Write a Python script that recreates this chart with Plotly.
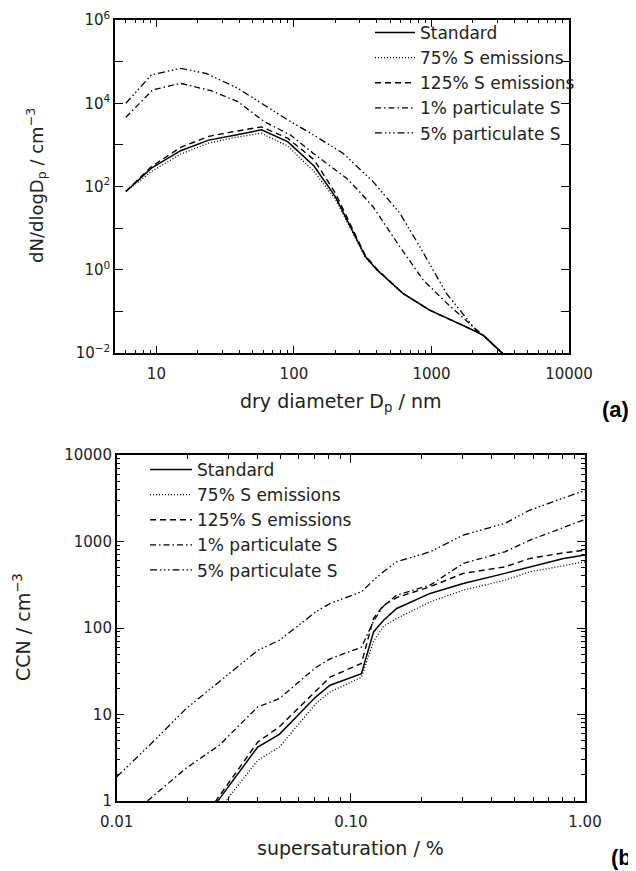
import plotly.graph_objects as go

W, H = 636, 871
OFF = 8  # page body margin of the browser

# ---------------- Panel (a): size distributions ----------------
names = ["Standard", "75% S emissions", "125% S emissions", "1% particulate S", "5% particulate S"]

d_std = [6, 9.2, 15, 24, 37, 58, 90, 140, 200, 270, 330, 400, 470, 620, 970, 1500, 2100, 2400, 3500]
n_std = [76, 275, 725, 1300, 1700, 2300, 1200, 310, 57, 7.6, 2.1, 1.0, 0.63, 0.27, 0.107, 0.056, 0.033, 0.026, 0.008]
n_75 = [76, 229, 600, 1100, 1500, 1900, 940, 229, 50, 7.2, 2.0, 1.0, 0.63, 0.27, 0.107, 0.056, 0.033, 0.026, 0.008]
n_125 = [76, 300, 870, 1600, 2100, 2700, 1450, 440, 70, 8.5, 2.2, 1.05, 0.65, 0.27, 0.107, 0.056, 0.033, 0.026, 0.008]

d_1 = [6, 9.4, 15, 25, 39, 61, 95, 138, 241, 300, 376, 588, 870, 1285, 2000, 2400, 3500]
n_1 = [4600, 21000, 30000, 20000, 11000, 3600, 1700, 631, 158, 75, 32.7, 3.6, 0.57, 0.16, 0.043, 0.026, 0.008]

d_5 = [6, 9.2, 15, 23, 39, 61, 90, 140, 227, 376, 588, 822, 1285, 2100, 2400, 3500]
n_5 = [10000, 48000, 69000, 52000, 23000, 9100, 4000, 1700, 630, 131, 23, 3.6, 0.27, 0.036, 0.026, 0.008]

xa_ticks = [10, 100, 1000, 10000]
xa_labels = ["10", "100", "1000", "10000"]
ya_ticks = [1e-2, 1e-1, 1e0, 1e1, 1e2, 1e3, 1e4, 1e5, 1e6]
ya_labels = ["10<sup>\u22122</sup>", "", "10<sup>0</sup>", "", "10<sup>2</sup>", "", "10<sup>4</sup>", "", "10<sup>6</sup>"]

# ---------------- Panel (b): CCN spectra ----------------
s_b = [0.01, 0.0138, 0.0198, 0.0274, 0.04, 0.0495, 0.0709, 0.0815, 0.111, 0.125, 0.138, 0.157, 0.218, 0.302, 0.455, 0.582, 0.81, 1.0]
c_std = [None, None, 0.34, 1.05, 4.2, 5.9, 16, 21.8, 29.7, 90, 123, 168, 251, 327, 428, 509, 637, 696]
c_75 = [None, None, 0.26, 0.8, 2.95, 4.2, 13.4, 18.2, 27, 70, 105, 129, 200, 274, 357, 446, 530, 582]
c_125 = [None, None, 0.33, 1.13, 4.8, 7.2, 19, 27, 39, 129, 184, 225, 300, 428, 509, 637, 740, 795]
c_1 = [0.5, 1.05, 2.4, 4.4, 12.2, 15.3, 35, 44, 60, 120, 180, 240, 313, 558, 760, 1037, 1450, 1800]
c_5 = [1.9, 4.4, 11.7, 24, 55, 72, 154, 192, 262, 357, 450, 582, 760, 1185, 1620, 2310, 3200, 3900]

xb_ticks = [0.01, 0.1, 1.0]
xb_labels = ["0.01", "0.10", "1.00"]
yb_ticks = [1, 10, 100, 1000, 10000]
yb_labels = ["1", "10", "100", "1000", "10000"]

dashes = ["solid", "1px,2px", "6px,4px", "6px,3px,1.5px,3px",
          "7px,3px,1.5px,2.5px,1.5px,2.5px,1.5px,3px"]
widths = [1.5, 1.3, 1.4, 1.3, 1.3]

FONT = "DejaVu Sans"
fig = go.Figure()

a_x = [d_std, d_std, d_std, d_1, d_5]
a_y = [n_std, n_75, n_125, n_1, n_5]
for i in range(5):
    fig.add_trace(go.Scatter(x=a_x[i], y=a_y[i], mode="lines", name=names[i],
                             line=dict(color="black", width=widths[i], dash=dashes[i]),
                             xaxis="x", yaxis="y", legend="legend"))

b_y = [c_std, c_75, c_125, c_1, c_5]
for i in range(5):
    fig.add_trace(go.Scatter(x=s_b, y=b_y[i], mode="lines", name=names[i],
                             line=dict(color="black", width=widths[i], dash=dashes[i]),
                             xaxis="x2", yaxis="y2", legend="legend2"))


def px_x(p):
    return (p - OFF) / W


def px_y(p):
    return 1 - (p - OFF) / H


def minor_vals(lo_exp, hi_exp):
    out = []
    for e in range(lo_exp, hi_exp):
        for m in range(2, 10):
            out.append(m * 10 ** e)
    return out


axis_common = dict(showline=True, linecolor="black", linewidth=1.5, mirror="ticks",
                   ticks="inside", tickcolor="black", tickwidth=1.2, showgrid=False,
                   zeroline=False, automargin=False,
                   tickfont=dict(family=FONT, size=15, color="#222"))

fig.update_layout(
    width=W, height=H, margin=dict(l=0, r=0, t=0, b=0, pad=0), autosize=False,
    paper_bgcolor="white", plot_bgcolor="white",
    xaxis=dict(type="log", range=[0.699, 4.0], domain=[px_x(115), px_x(569)], anchor="y",
               tickmode="array", tickvals=xa_ticks, ticktext=xa_labels, ticklen=7,
               ticklabelstandoff=6,
               minor=dict(tickmode="array", tickvals=[v for v in minor_vals(0, 4) if v > 5], ticklen=3.5,
                          tickcolor="black", tickwidth=1, ticks="inside"),
               **axis_common),
    yaxis=dict(type="log", range=[-2, 6], domain=[px_y(353), px_y(20)], anchor="x",
               tickmode="array", tickvals=ya_ticks, ticktext=ya_labels, ticklen=8,
               **axis_common),
    xaxis2=dict(type="log", range=[-2, 0], domain=[px_x(116.7), px_x(585)], anchor="y2",
                tickmode="array", tickvals=xb_ticks, ticktext=xb_labels, ticklen=8,
                ticklabelstandoff=6,
                minor=dict(tickmode="array", tickvals=minor_vals(-2, 0), ticklen=4,
                           tickcolor="black", tickwidth=1, ticks="inside"),
                **axis_common),
    yaxis2=dict(type="log", range=[0, 4], domain=[px_y(801), px_y(455)], anchor="x2",
                tickmode="array", tickvals=yb_ticks, ticktext=yb_labels, ticklen=8,
                minor=dict(tickmode="array", tickvals=minor_vals(0, 4), ticklen=4,
                           tickcolor="black", tickwidth=1, ticks="inside"),
                **axis_common),
    legend=dict(x=px_x(370), y=px_y(15), xanchor="left", yanchor="top", itemwidth=40,
                bgcolor="rgba(0,0,0,0)", borderwidth=0,
                font=dict(family=FONT, size=17, color="#222"), tracegroupgap=0),
    legend2=dict(x=px_x(145), y=px_y(452), xanchor="left", yanchor="top", itemwidth=42,
                 bgcolor="rgba(0,0,0,0)", borderwidth=0,
                 font=dict(family=FONT, size=17, color="#222"), tracegroupgap=0),
    showlegend=True,
)

ann = [
    dict(text="dry diameter D<sub>p</sub> / nm", x=px_x(340), y=px_y(402), size=19),
    dict(text="supersaturation / %", x=px_x(350), y=px_y(848), size=19),
    dict(text="dN/dlogD<sub>p</sub> / cm<sup>\u22123</sup>", x=px_x(36), y=px_y(186), textangle=-90, size=18),
    dict(text="CCN / cm<sup>\u22123</sup>", x=px_x(22), y=px_y(627), textangle=-90, size=19),
]
for a in ann:
    sz = a.pop("size")
    fig.add_annotation(xref="paper", yref="paper", showarrow=False, xanchor="center", yanchor="middle",
                       font=dict(family=FONT, size=sz, color="#222"), **a)

fig.add_annotation(text="<b>(a)</b>", xref="paper", yref="paper", x=px_x(600), y=px_y(409),
                   xanchor="left", yanchor="middle", showarrow=False,
                   font=dict(family="Liberation Sans", size=22, color="black"))
fig.add_annotation(text="<b>(b)</b>", xref="paper", yref="paper", x=px_x(609), y=px_y(857),
                   xanchor="left", yanchor="middle", showarrow=False,
                   font=dict(family="Liberation Sans", size=22, color="black"))

fig.write_html("out.html")
